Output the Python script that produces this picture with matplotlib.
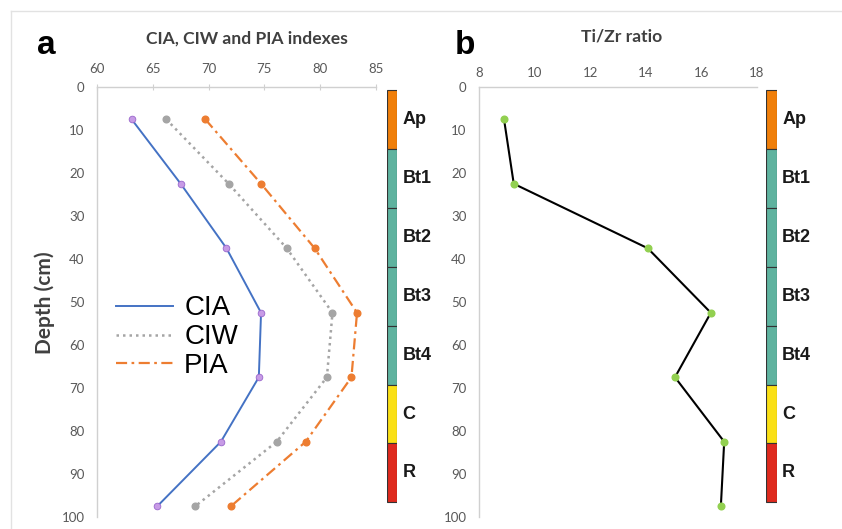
import matplotlib
matplotlib.use("Agg")
import matplotlib.pyplot as plt
from matplotlib.lines import Line2D
from matplotlib.patches import Rectangle

plt.rcParams["font.family"] = ["Lato", "DejaVu Sans"]

# data
depth = [7.5, 22.5, 37.5, 52.5, 67.5, 82.5, 97.5]
cia = [63.1, 67.5, 71.6, 74.7, 74.5, 71.1, 65.4]
ciw = [66.2, 71.8, 77.0, 81.1, 80.6, 76.1, 68.8]
pia = [69.7, 74.7, 79.5, 83.3, 82.8, 78.7, 72.0]
ti_zr = [8.9, 9.25, 14.07, 16.34, 15.05, 16.82, 16.7]

horizons = ["Ap", "Bt1", "Bt2", "Bt3", "Bt4", "C", "R"]
horizon_edges = [0.8, 14.5, 28.1, 41.8, 55.6, 69.3, 82.8, 96.4]
horizon_colors = ["#F07F0A", "#5FB39F", "#5FB39F", "#5FB39F", "#5FB39F", "#FAE016", "#DF2A1E"]

depth_ticks = list(range(0, 101, 10))
index_ticks = [60, 65, 70, 75, 80, 85]
ratio_ticks = [8, 10, 12, 14, 16, 18]

W, H = 842, 529
fig = plt.figure(figsize=(W / 100, H / 100), dpi=100)


def box(x0, y0, x1, y1):
    # pixel box -> figure fraction
    return [x0 / W, 1 - y1 / H, (x1 - x0) / W, (y1 - y0) / H]


spine_col = "#D0D0D0"
tick_col = "#595959"


def style_axis(ax, xlim, xticks, xtick_len):
    ax.set_xlim(*xlim)
    ax.set_ylim(100, 0)
    ax.xaxis.tick_top()
    ax.set_xticks(xticks)
    ax.set_yticks(depth_ticks)
    ax.tick_params(axis="x", direction="inout", length=xtick_len, color=spine_col,
                   labelsize=9.5, labelcolor=tick_col, pad=6)
    ax.tick_params(axis="y", length=0, labelsize=9.5, labelcolor=tick_col, pad=9)
    for s in ["right", "bottom"]:
        ax.spines[s].set_visible(False)
    for s in ["left", "top"]:
        ax.spines[s].set_color(spine_col)
        ax.spines[s].set_linewidth(1.0)


def horizon_bar(rect):
    bax = fig.add_axes(rect)
    bax.set_xlim(0, 1)
    bax.set_ylim(100, 0)
    bax.axis("off")
    for i, name in enumerate(horizons):
        top, bot = horizon_edges[i], horizon_edges[i + 1]
        bax.add_patch(Rectangle((0, top), 1, bot - top, facecolor=horizon_colors[i],
                                edgecolor="#333333", linewidth=0.8))
        bax.text(1.5, (top + bot) / 2, name, fontsize=13, fontweight="bold",
                 family=["Liberation Sans", "DejaVu Sans"], color="#1a1a1a",
                 va="center", ha="left")


# panel a
ax1 = fig.add_axes(box(97, 87, 376, 517))
style_axis(ax1, (60, 85), index_ticks, 5)
ax1.plot(cia, depth, color="#4472C4", lw=1.4, label="CIA")
ax1.plot(cia, depth, ls="", marker="o", ms=4.8, mfc="#C79BE6", mec="#9966CC", mew=0.6)
ax1.plot(ciw, depth, color="#A5A5A5", lw=1.8, ls=(0, (1, 1.6)), label="CIW")
ax1.plot(ciw, depth, ls="", marker="o", ms=4.8, mfc="#A5A5A5", mec="#A5A5A5")
ax1.plot(pia, depth, color="#ED7D31", lw=1.6, ls=(0, (5, 2, 1.2, 2)), label="PIA")
ax1.plot(pia, depth, ls="", marker="o", ms=4.8, mfc="#ED7D31", mec="#ED7D31")
ax1.legend(loc="center left", bbox_to_anchor=(0.019, 0.418), frameon=False,
           prop={"family": ["Liberation Sans", "DejaVu Sans"], "size": 20},
           handlelength=2.05, handletextpad=0.4, labelspacing=0.1, borderpad=0)
horizon_bar(box(387, 87, 397.5, 517))

# panel b
ax2 = fig.add_axes(box(479, 87, 757, 517))
style_axis(ax2, (8, 18), ratio_ticks, 0)
ax2.plot(ti_zr, depth, color="black", lw=1.5, marker="o", ms=4.8,
         mfc="#92D050", mec="#92D050")
horizon_bar(box(766, 87, 776.7, 517))

# titles, panel letters, depth label
fig.text(247 / W, 1 - 39 / H, "CIA, CIW and PIA indexes", fontsize=12.6,
         fontweight="bold", color="#404040", ha="center", va="center")
fig.text(622 / W, 1 - 37 / H, "Ti/Zr ratio", fontsize=12.6,
         fontweight="bold", color="#404040", ha="center", va="center")
fig.text(37 / W, 1 - 54 / H, "a", fontsize=24, fontweight="bold",
         family=["Liberation Sans", "DejaVu Sans"], ha="left", va="baseline")
fig.text(455 / W, 1 - 54 / H, "b", fontsize=24, fontweight="bold",
         family=["Liberation Sans", "DejaVu Sans"], ha="left", va="baseline")
fig.text(45 / W, 1 - 303 / H, "Depth (cm)", fontsize=15, fontweight="bold",
         color="#404040", rotation=90, ha="center", va="center")

# light outer frame
fig.add_artist(Line2D([11 / W, 1], [1 - 11 / H, 1 - 11 / H], color="#E2E2E2", lw=1))
fig.add_artist(Line2D([11 / W, 11 / W], [0, 1 - 11 / H], color="#E2E2E2", lw=1))

fig.savefig("out.png", dpi=100)
